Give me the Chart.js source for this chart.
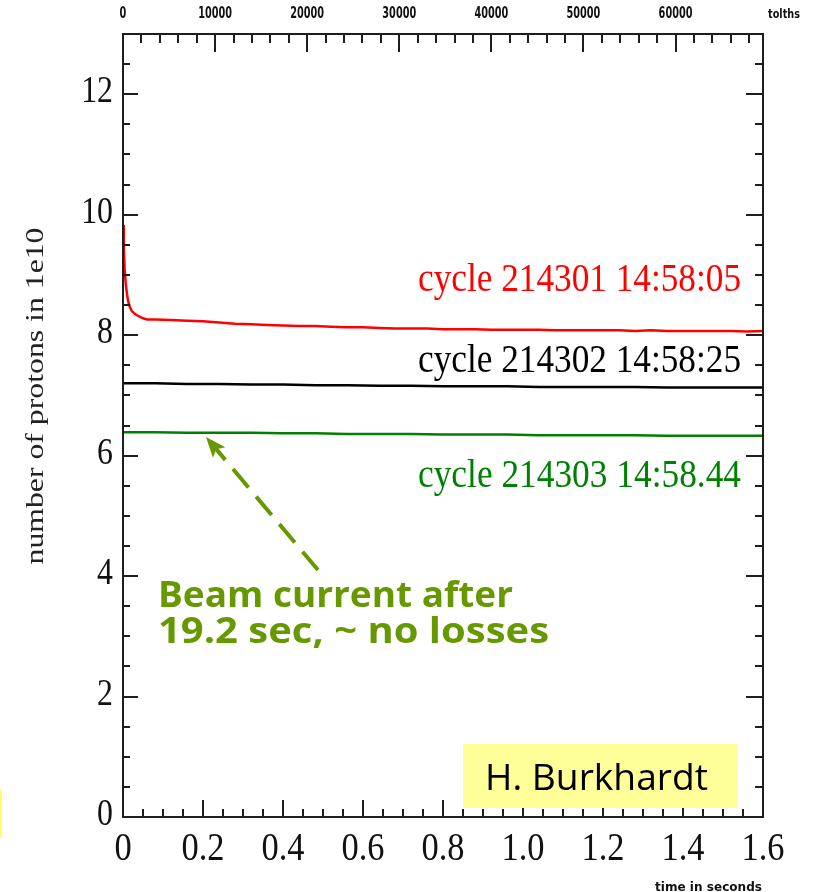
<!DOCTYPE html>
<html>
<head>
<meta charset="utf-8">
<script src="https://cdn.jsdelivr.net/npm/chart.js@4/dist/chart.umd.min.js"></script>
<style>
  html, body { margin: 0; padding: 0; background: #ffffff; }
  #wrap { width: 816px; height: 892px; }
</style>
</head>
<body>
<div id="wrap"><canvas id="c" width="816" height="892"></canvas></div>
<script>
// ---- beam intensity per cycle (time in seconds, protons in 1e10) ----
const redTimes = [0, 0.002, 0.004, 0.007, 0.010, 0.013, 0.017, 0.022, 0.030, 0.040, 0.050, 0.060,
  0.08, 0.12, 0.16, 0.20, 0.24, 0.28, 0.32, 0.36, 0.40, 0.44, 0.48, 0.52, 0.56, 0.60, 0.64, 0.68,
  0.72, 0.76, 0.80, 0.84, 0.88, 0.92, 0.96, 1.00, 1.04, 1.08, 1.12, 1.16, 1.20, 1.24, 1.28, 1.32,
  1.36, 1.40, 1.44, 1.48, 1.52, 1.56, 1.60];
const redValues = [9.83, 9.45, 9.10, 8.85, 8.68, 8.56, 8.47, 8.40, 8.35, 8.31, 8.28, 8.26,
  8.26, 8.25, 8.24, 8.23, 8.21, 8.19, 8.18, 8.17, 8.16, 8.15, 8.15, 8.14, 8.13, 8.13, 8.12, 8.11,
  8.11, 8.11, 8.10, 8.10, 8.10, 8.09, 8.09, 8.09, 8.09, 8.08, 8.08, 8.08, 8.08, 8.08, 8.07, 8.08,
  8.07, 8.07, 8.07, 8.07, 8.07, 8.06, 8.07];

const flatTimes = [0, 0.08, 0.16, 0.24, 0.32, 0.40, 0.48, 0.56, 0.64, 0.72, 0.80,
  0.88, 0.96, 1.04, 1.12, 1.20, 1.28, 1.36, 1.44, 1.52, 1.60];
const blackValues = [7.20, 7.20, 7.19, 7.19, 7.18, 7.18, 7.17, 7.17, 7.16, 7.16, 7.15,
  7.15, 7.15, 7.14, 7.14, 7.14, 7.14, 7.13, 7.13, 7.13, 7.13];
const greenValues = [6.39, 6.39, 6.38, 6.38, 6.38, 6.37, 6.37, 6.36, 6.36, 6.36, 6.35,
  6.35, 6.35, 6.34, 6.34, 6.34, 6.34, 6.33, 6.33, 6.33, 6.33];

const seriesNames = ['cycle 214301 14:58:05', 'cycle 214302 14:58:25', 'cycle 214303 14:58.44'];

// ---- axis tick labels ----
const xTickLabels = ['0', '0.2', '0.4', '0.6', '0.8', '1.0', '1.2', '1.4', '1.6'];
const yTickLabels = ['0', '2', '4', '6', '8', '10', '12'];
const topTickLabels = ['0', '10000', '20000', '30000', '40000', '50000', '60000'];

const X_MAX = 1.6, Y_MAX = 13, TOP_MAX = 69500;

function pairs(xs, ys) { return xs.map((x, i) => ({ x: x, y: ys[i] })); }

// text with an optional horizontal squeeze / fit-to-width
function drawText(ctx, s, x, y, opt) {
  ctx.save();
  ctx.font = opt.font;
  ctx.fillStyle = opt.color || '#000';
  ctx.textAlign = opt.align || 'left';
  ctx.textBaseline = opt.baseline || 'alphabetic';
  let sx = opt.sx || 1;
  if (opt.width) sx = opt.width / ctx.measureText(s).width;
  ctx.translate(x, y);
  if (opt.rotate) ctx.rotate(opt.rotate);
  ctx.scale(sx, 1);
  ctx.fillText(s, 0, 0);
  ctx.restore();
}

const frameAxes = {
  id: 'frameAxes',
  afterDatasetsDraw(chart) {
    const { ctx, chartArea: a, scales } = chart;
    const sx = scales.x, sy = scales.y, st = scales.xTop;
    ctx.save();
    ctx.strokeStyle = '#1e1e1e';
    ctx.lineWidth = 2;
    ctx.lineCap = 'butt';

    // ticks, all pointing into the plot
    ctx.beginPath();
    for (let i = 0; i <= 32; i++) {            // bottom: 0.05 s steps
      const px = Math.round(sx.getPixelForValue(i * 0.05));
      const len = (i % 4 === 0) ? 17 : 8;
      ctx.moveTo(px, a.bottom); ctx.lineTo(px, a.bottom - len);
    }
    for (let k = 0; k * 2000 <= TOP_MAX; k++) { // top: 2000 unit steps
      const px = Math.round(st.getPixelForValue(k * 2000));
      const len = (k % 5 === 0) ? 18 : 9;
      ctx.moveTo(px, a.top); ctx.lineTo(px, a.top + len);
    }
    for (let j = 0; j <= 26; j++) {            // left and right: 0.5 steps
      const py = Math.round(sy.getPixelForValue(j * 0.5));
      const major = (j % 4 === 0);
      ctx.moveTo(a.left, py); ctx.lineTo(a.left + (major ? 15 : 7), py);
      ctx.moveTo(a.right, py); ctx.lineTo(a.right - (major ? 17 : 8), py);
    }
    ctx.stroke();

    // frame
    ctx.strokeRect(a.left, a.top, a.right - a.left, a.bottom - a.top);

    // bottom tick labels
    xTickLabels.forEach((lab, i) => {
      drawText(ctx, lab, sx.getPixelForValue(i * 0.2), 860,
        { font: '40px "Liberation Serif"', align: 'center', sx: 0.86, color: '#111' });
    });
    // left tick labels
    yTickLabels.forEach((lab, i) => {
      drawText(ctx, lab, 113, sy.getPixelForValue(i * 2) + 8,
        { font: '37px "Liberation Serif"', align: 'right', sx: 0.86, color: '#111' });
    });
    // top tick labels
    topTickLabels.forEach((lab, i) => {
      drawText(ctx, lab, st.getPixelForValue(i * 10000), 18,
        { font: 'bold 15px "DejaVu Sans Condensed", "DejaVu Sans"', align: 'center', sx: 0.72, color: '#111' });
    });
    drawText(ctx, 'tolths', 768, 18,
      { font: 'bold 12px "DejaVu Sans Condensed", "DejaVu Sans"', width: 32, color: '#111' });
    drawText(ctx, 'time in seconds', 762, 891,
      { font: 'bold 12px "DejaVu Sans Condensed", "DejaVu Sans"', align: 'right', width: 107, color: '#111' });

    // y axis title
    drawText(ctx, 'number of protons in 1e10', 43, 396,
      { font: '25px "Liberation Serif"', align: 'center', rotate: -Math.PI / 2, width: 337, color: '#222' });

    // series names
    const nameColors = ['#ff0000', '#000000', '#008000'];
    const nameBase = [291, 372, 487];
    seriesNames.forEach((n, i) => {
      drawText(ctx, n, 418, nameBase[i],
        { font: '40px "Liberation Serif"', width: 323, color: nameColors[i] });
    });

    // annotation arrow (tail and tip in data coordinates)
    const olive = '#669900';
    const tail = { x: sx.getPixelForValue(0.4875), y: sy.getPixelForValue(4.10) };
    const tip = { x: sx.getPixelForValue(0.2075), y: sy.getPixelForValue(6.31) };
    const ang = Math.atan2(tail.y - tip.y, tail.x - tip.x);
    ctx.strokeStyle = olive;
    ctx.lineWidth = 4;
    ctx.setLineDash([24, 12]);
    ctx.beginPath();
    ctx.moveTo(tail.x, tail.y);
    ctx.lineTo(tip.x + 14 * Math.cos(ang), tip.y + 14 * Math.sin(ang));
    ctx.stroke();
    ctx.setLineDash([]);
    ctx.fillStyle = olive;
    ctx.beginPath();
    ctx.moveTo(tip.x, tip.y);
    ctx.lineTo(tip.x + 22 * Math.cos(ang + 0.38), tip.y + 22 * Math.sin(ang + 0.38));
    ctx.lineTo(tip.x + 16 * Math.cos(ang), tip.y + 16 * Math.sin(ang));
    ctx.lineTo(tip.x + 22 * Math.cos(ang - 0.38), tip.y + 22 * Math.sin(ang - 0.38));
    ctx.closePath();
    ctx.fill();

    drawText(ctx, 'Beam current after', 158, 607,
      { font: 'bold 36px "Open Sans"', width: 355, color: olive });
    drawText(ctx, '19.2 sec, ~ no losses', 158, 643,
      { font: 'bold 36px "Open Sans"', width: 391, color: olive });

    // author box
    ctx.fillStyle = '#ffff99';
    ctx.fillRect(463, 744, 275, 64);
    drawText(ctx, 'H. Burkhardt', 485, 790,
      { font: '37px "Open Sans"', width: 223, color: '#000' });

    // small yellow edge at the far left
    ctx.fillStyle = '#ffff66';
    ctx.fillRect(0, 790, 2, 48);
    ctx.restore();
  }
};

const lineStyle = { pointRadius: 0, borderWidth: 2.5, tension: 0, fill: false };

new Chart(document.getElementById('c'), {
  type: 'line',
  data: {
    datasets: [
      Object.assign({ label: seriesNames[0], data: pairs(redTimes, redValues), borderColor: '#ff0000' }, lineStyle),
      Object.assign({ label: seriesNames[1], data: pairs(flatTimes, blackValues), borderColor: '#000000' }, lineStyle),
      Object.assign({ label: seriesNames[2], data: pairs(flatTimes, greenValues), borderColor: '#008000' }, lineStyle)
    ]
  },
  options: {
    responsive: false,
    animation: false,
    devicePixelRatio: 1,
    layout: { padding: { left: 123, right: 53, top: 34, bottom: 75 } },
    plugins: { legend: { display: false }, tooltip: { enabled: false } },
    scales: {
      x: { type: 'linear', min: 0, max: X_MAX, display: false },
      xTop: { type: 'linear', position: 'top', min: 0, max: TOP_MAX, display: false },
      y: { type: 'linear', min: 0, max: Y_MAX, display: false }
    }
  },
  plugins: [frameAxes]
});
</script>
</body>
</html>
